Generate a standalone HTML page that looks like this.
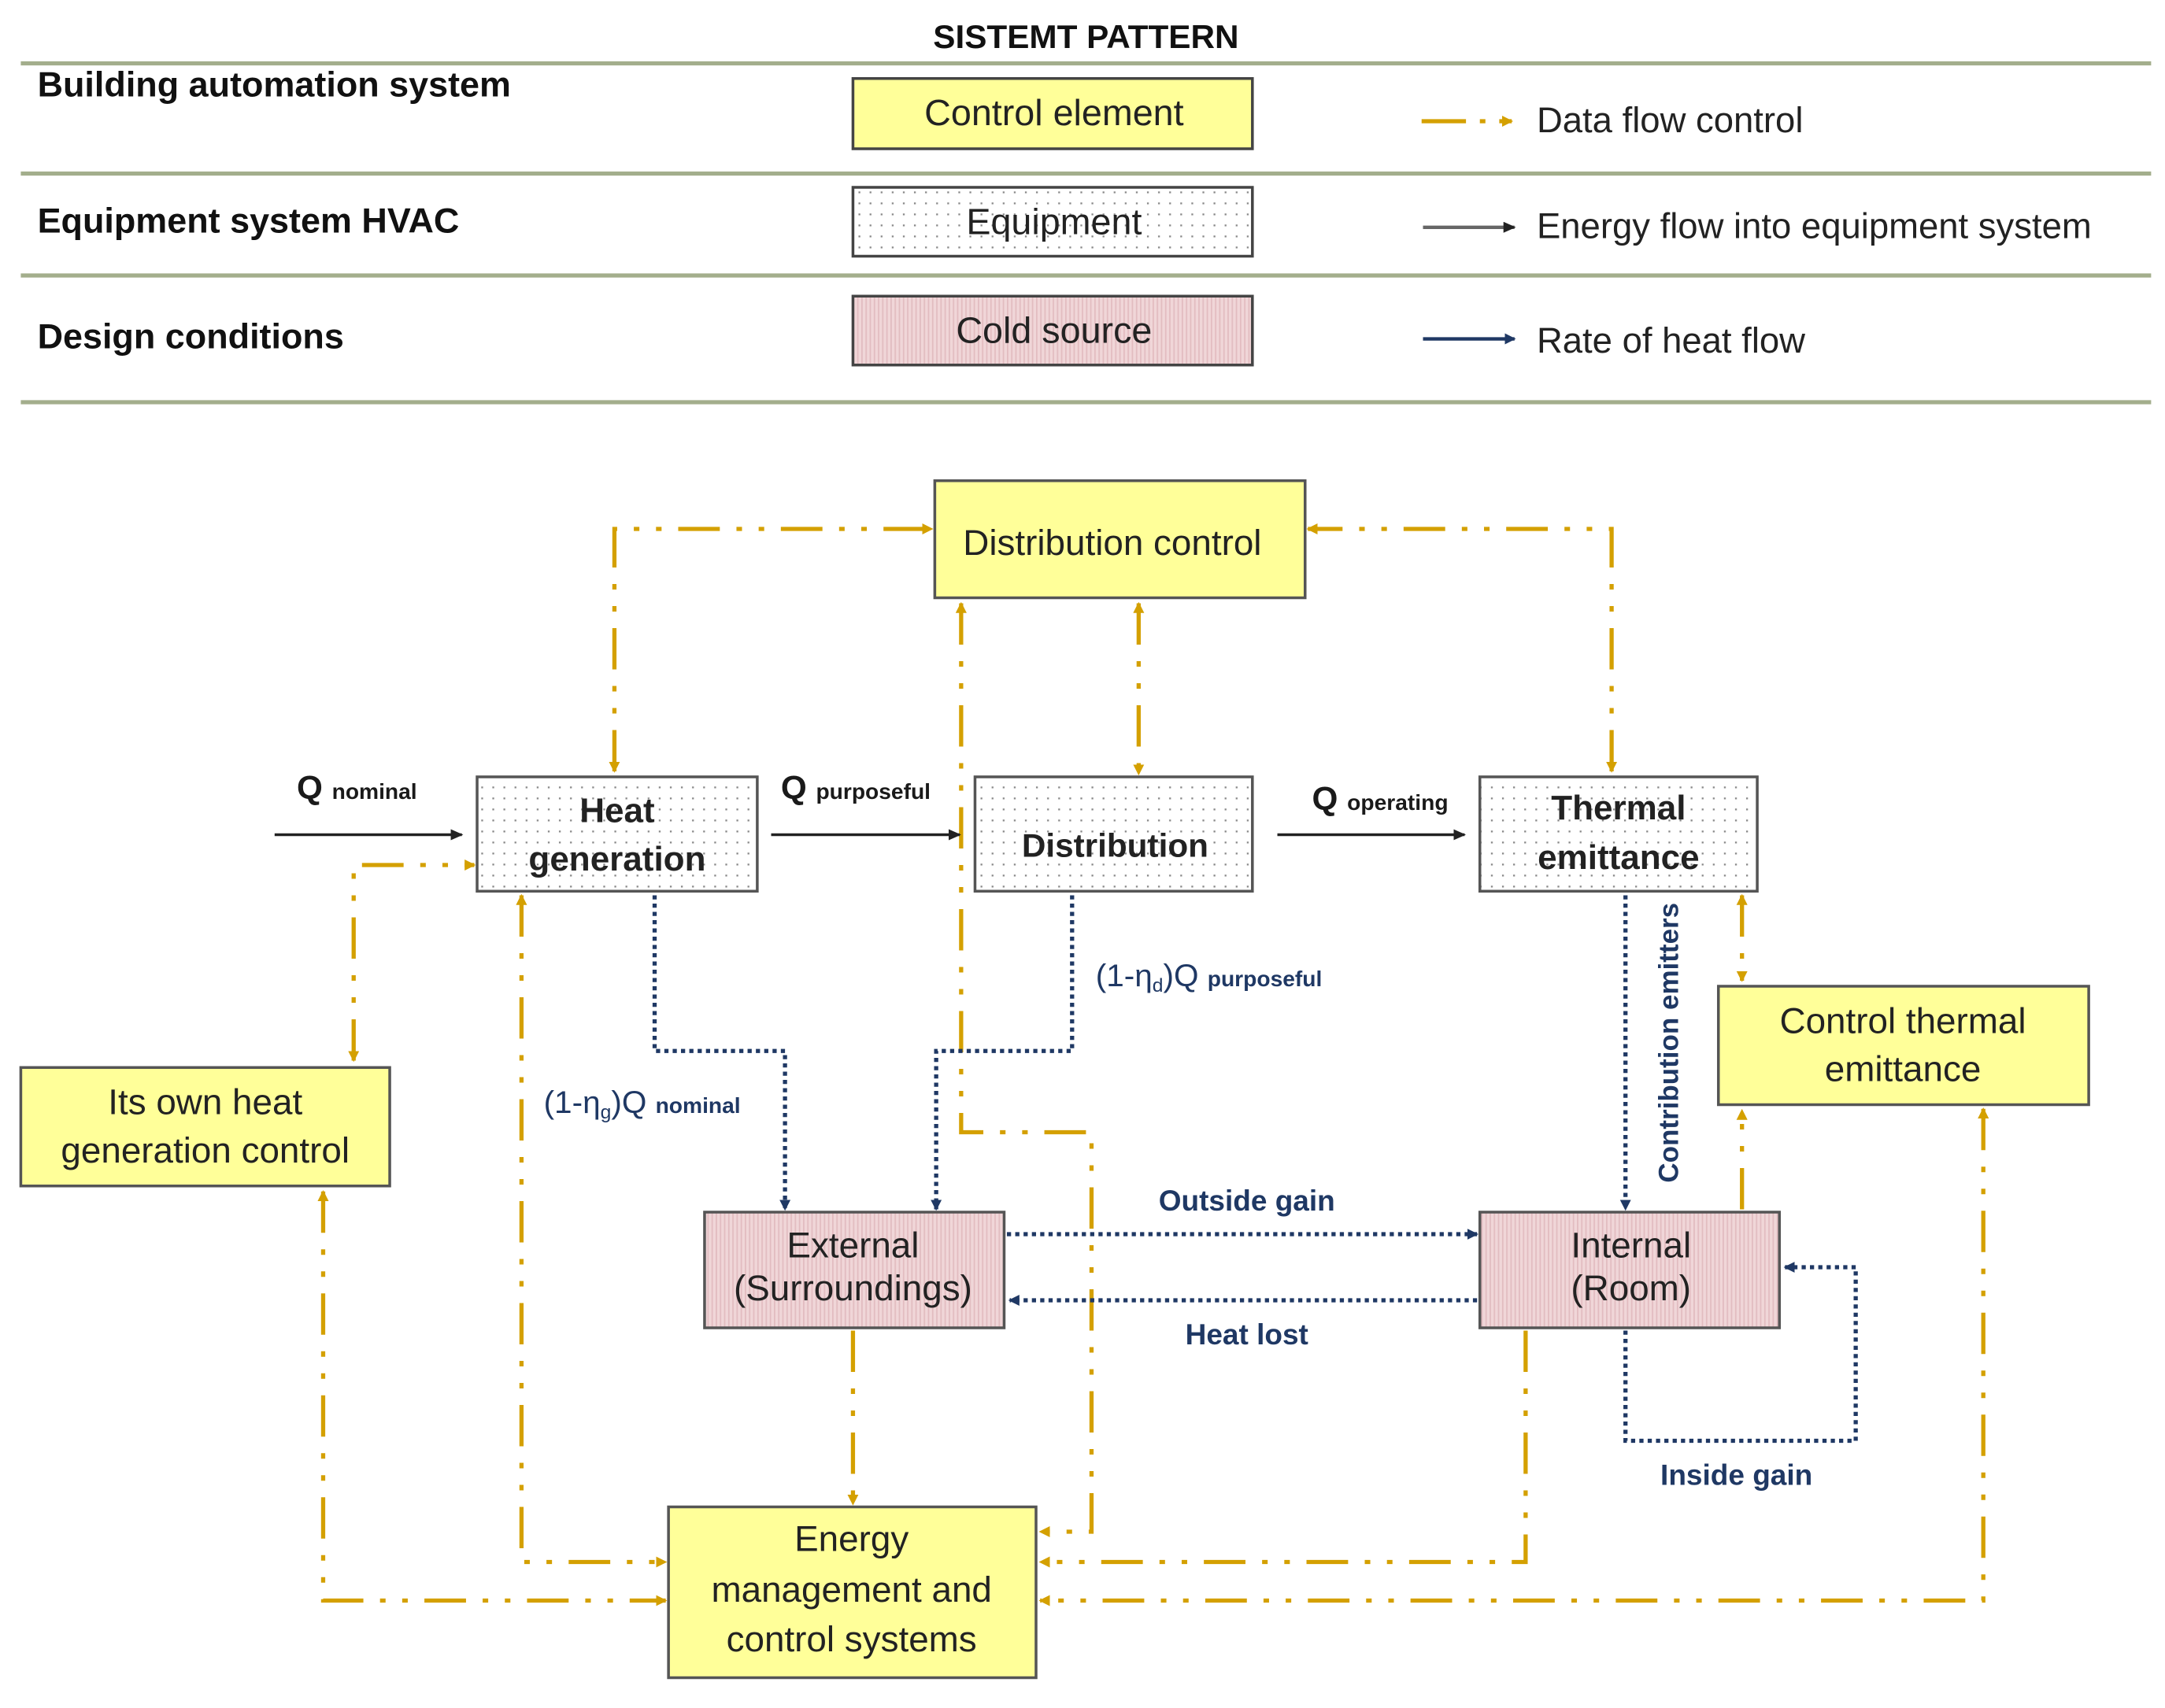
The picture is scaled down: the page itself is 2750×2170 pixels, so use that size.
<!DOCTYPE html>
<html><head><meta charset="utf-8"><style>
html,body{margin:0;padding:0;background:#fff}
svg{display:block}
text{font-family:"Liberation Sans",sans-serif}
</style></head><body>
<svg width="2750" height="2170" viewBox="0 0 1561 1240" preserveAspectRatio="none" xmlns="http://www.w3.org/2000/svg">
<defs>
<pattern id="dots" width="8" height="8" patternUnits="userSpaceOnUse"><rect width="8" height="8" fill="#fff"/><rect x="3" y="3" width="1.3" height="1.3" fill="#888"/></pattern>
<pattern id="pink" width="3" height="10" patternUnits="userSpaceOnUse"><rect width="3" height="10" fill="#f0d6d8"/><rect x="0" width="1" height="10" fill="#e2bcc0"/></pattern>
<marker id="ag" markerWidth="8" markerHeight="8" refX="7" refY="4" orient="auto" markerUnits="userSpaceOnUse"><path d="M0,0 L8,4 L0,8 z" fill="#d4a000"/></marker>
<marker id="agS" markerWidth="8" markerHeight="8" refX="1" refY="4" orient="auto" markerUnits="userSpaceOnUse"><path d="M8,0 L0,4 L8,8 z" fill="#d4a000"/></marker>
<marker id="ab" markerWidth="8" markerHeight="8" refX="7" refY="4" orient="auto" markerUnits="userSpaceOnUse"><path d="M0,0 L8,4 L0,8 z" fill="#1f3864"/></marker>
<marker id="ak" markerWidth="9" markerHeight="8" refX="8" refY="4" orient="auto" markerUnits="userSpaceOnUse"><path d="M0,0 L9,4 L0,8 z" fill="#222"/></marker>
</defs>

<!-- legend -->
<text x="783" y="35" text-anchor="middle" font-size="24" font-weight="bold" fill="#111">SISTEMT PATTERN</text>
<g stroke="#a3ae8c" stroke-width="3">
<line x1="15" y1="46" x2="1551" y2="46"/><line x1="15" y1="126" x2="1551" y2="126"/>
<line x1="15" y1="200" x2="1551" y2="200"/><line x1="15" y1="292" x2="1551" y2="292"/>
</g>
<g font-size="25.5" font-weight="bold" fill="#111">
<text x="27" y="70">Building automation system</text>
<text x="27" y="169">Equipment system HVAC</text>
<text x="27" y="253">Design conditions</text>
</g>
<rect x="615" y="57" width="288" height="51" fill="#ffff99" stroke="#444" stroke-width="2"/>
<rect x="615" y="136" width="288" height="50" fill="url(#dots)" stroke="#444" stroke-width="2"/>
<rect x="615" y="215" width="288" height="50" fill="url(#pink)" stroke="#444" stroke-width="2"/>
<g font-size="26.5" fill="#222" text-anchor="middle">
<text x="760" y="91">Control element</text>
<text x="760" y="170">Equipment</text>
<text x="760" y="249">Cold source</text>
</g>
<line x1="1025" y1="88" x2="1090" y2="88" stroke="#d4a000" stroke-width="3" stroke-dasharray="32 10 4 10" marker-end="url(#ag)"/>
<line x1="1026" y1="165" x2="1092" y2="165" stroke="#666" stroke-width="2.5" marker-end="url(#ak)"/>
<line x1="1026" y1="246" x2="1092" y2="246" stroke="#1f3864" stroke-width="2.5" marker-end="url(#ab)"/>
<g font-size="25.8" fill="#222">
<text x="1108" y="96">Data flow control</text>
<text x="1108" y="173">Energy flow into equipment system</text>
<text x="1108" y="256">Rate of heat flow</text>
</g>

<!-- gold connectors -->
<g fill="none" stroke="#d4a000" stroke-width="3" stroke-dasharray="30 12 4 12 4 12">
<polyline points="443,560 443,384 672,384" marker-start="url(#agS)" marker-end="url(#ag)"/>
<polyline points="1162,560 1162,384 943,384" marker-start="url(#agS)" marker-end="url(#ag)"/>
<line x1="821" y1="438" x2="821" y2="562" marker-start="url(#agS)" marker-end="url(#ag)"/>
<polyline points="693,438 693,822 787,822 787,1112 750,1112" marker-start="url(#agS)" marker-end="url(#ag)"/>
<polyline points="255,770 255,628 342,628" marker-start="url(#agS)" marker-end="url(#ag)"/>
<polyline points="376,650 376,1134 480,1134" marker-start="url(#agS)" marker-end="url(#ag)"/>
<polyline points="233,865 233,1162 480,1162" marker-start="url(#agS)" marker-end="url(#ag)"/>
<line x1="615" y1="966" x2="615" y2="1092" marker-end="url(#ag)"/>
<polyline points="1100,966 1100,1134 750,1134" marker-end="url(#ag)"/>
<polyline points="1430,805 1430,1162 750,1162" marker-start="url(#agS)" marker-end="url(#ag)"/>
<line x1="1256" y1="650" x2="1256" y2="712" marker-start="url(#agS)" marker-end="url(#ag)"/>
<line x1="1256" y1="878" x2="1256" y2="806" marker-end="url(#ag)"/>
</g>

<!-- blue dotted -->
<g fill="none" stroke="#1f3864" stroke-width="3" stroke-dasharray="3 3">
<polyline points="472,650 472,763 566,763 566,878" marker-end="url(#ab)"/>
<polyline points="773,650 773,763 675,763 675,878" marker-end="url(#ab)"/>
<line x1="1172" y1="650" x2="1172" y2="878" marker-end="url(#ab)"/>
<line x1="726" y1="896" x2="1065" y2="896" marker-end="url(#ab)"/>
<line x1="1065" y1="944" x2="728" y2="944" marker-end="url(#ab)"/>
<polyline points="1172,966 1172,1046 1338,1046 1338,920 1287,920" marker-end="url(#ab)"/>
</g>

<!-- black arrows -->
<g stroke="#222" stroke-width="2">
<line x1="198" y1="606" x2="333" y2="606" marker-end="url(#ak)"/>
<line x1="556" y1="606" x2="692" y2="606" marker-end="url(#ak)"/>
<line x1="921" y1="606" x2="1056" y2="606" marker-end="url(#ak)"/>
</g>

<!-- boxes -->
<g stroke="#555" stroke-width="2">
<rect x="674" y="349" width="267" height="85" fill="#ffff99"/>
<rect x="344" y="564" width="202" height="83" fill="url(#dots)"/>
<rect x="703" y="564" width="200" height="83" fill="url(#dots)"/>
<rect x="1067" y="564" width="200" height="83" fill="url(#dots)"/>
<rect x="1239" y="716" width="267" height="86" fill="#ffff99"/>
<rect x="15" y="775" width="266" height="86" fill="#ffff99"/>
<rect x="508" y="880" width="216" height="84" fill="url(#pink)"/>
<rect x="1067" y="880" width="216" height="84" fill="url(#pink)"/>
<rect x="482" y="1094" width="265" height="124" fill="#ffff99"/>
</g>
<g font-size="26" fill="#222" text-anchor="middle">
<text x="802" y="403">Distribution control</text>
<text x="445" y="597" font-weight="bold" font-size="25">Heat</text>
<text x="445" y="632" font-weight="bold" font-size="25">generation</text>
<text x="804" y="622" font-weight="bold" font-size="24">Distribution</text>
<text x="1167" y="595" font-weight="bold" font-size="25">Thermal</text>
<text x="1167" y="631" font-weight="bold" font-size="25">emittance</text>
<text x="1372" y="750">Control thermal</text>
<text x="1372" y="785">emittance</text>
<text x="148" y="809">Its own heat</text>
<text x="148" y="844">generation control</text>
<text x="615" y="913">External</text>
<text x="615" y="944">(Surroundings)</text>
<text x="1176" y="913">Internal</text>
<text x="1176" y="944">(Room)</text>
<text x="614" y="1126">Energy</text>
<text x="614" y="1163">management and</text>
<text x="614" y="1199">control systems</text>
</g>

<!-- labels -->
<g fill="#1a1a1a" font-weight="bold">
<text x="214" y="580" font-size="24">Q <tspan font-size="16">nominal</tspan></text>
<text x="563" y="580" font-size="24">Q <tspan font-size="16">purposeful</tspan></text>
<text x="946" y="588" font-size="24">Q <tspan font-size="16">operating</tspan></text>
</g>
<g fill="#1f3864">
<text x="392" y="808" font-size="23">(1-η<tspan font-size="14" dy="4">g</tspan><tspan dy="-4">)Q</tspan> <tspan font-size="16" font-weight="bold">nominal</tspan></text>
<text x="790" y="716" font-size="23">(1-η<tspan font-size="14" dy="4">d</tspan><tspan dy="-4">)Q</tspan> <tspan font-size="16" font-weight="bold">purposeful</tspan></text>
<text x="899" y="879" font-size="21" font-weight="bold" text-anchor="middle">Outside gain</text>
<text x="899" y="976" font-size="21" font-weight="bold" text-anchor="middle">Heat lost</text>
<text x="1252" y="1078" font-size="21" font-weight="bold" text-anchor="middle">Inside gain</text>
<text transform="translate(1210,757) rotate(-90)" font-size="20" font-weight="bold" text-anchor="middle">Contribution emitters</text>
</g>
</svg>
</body></html>
